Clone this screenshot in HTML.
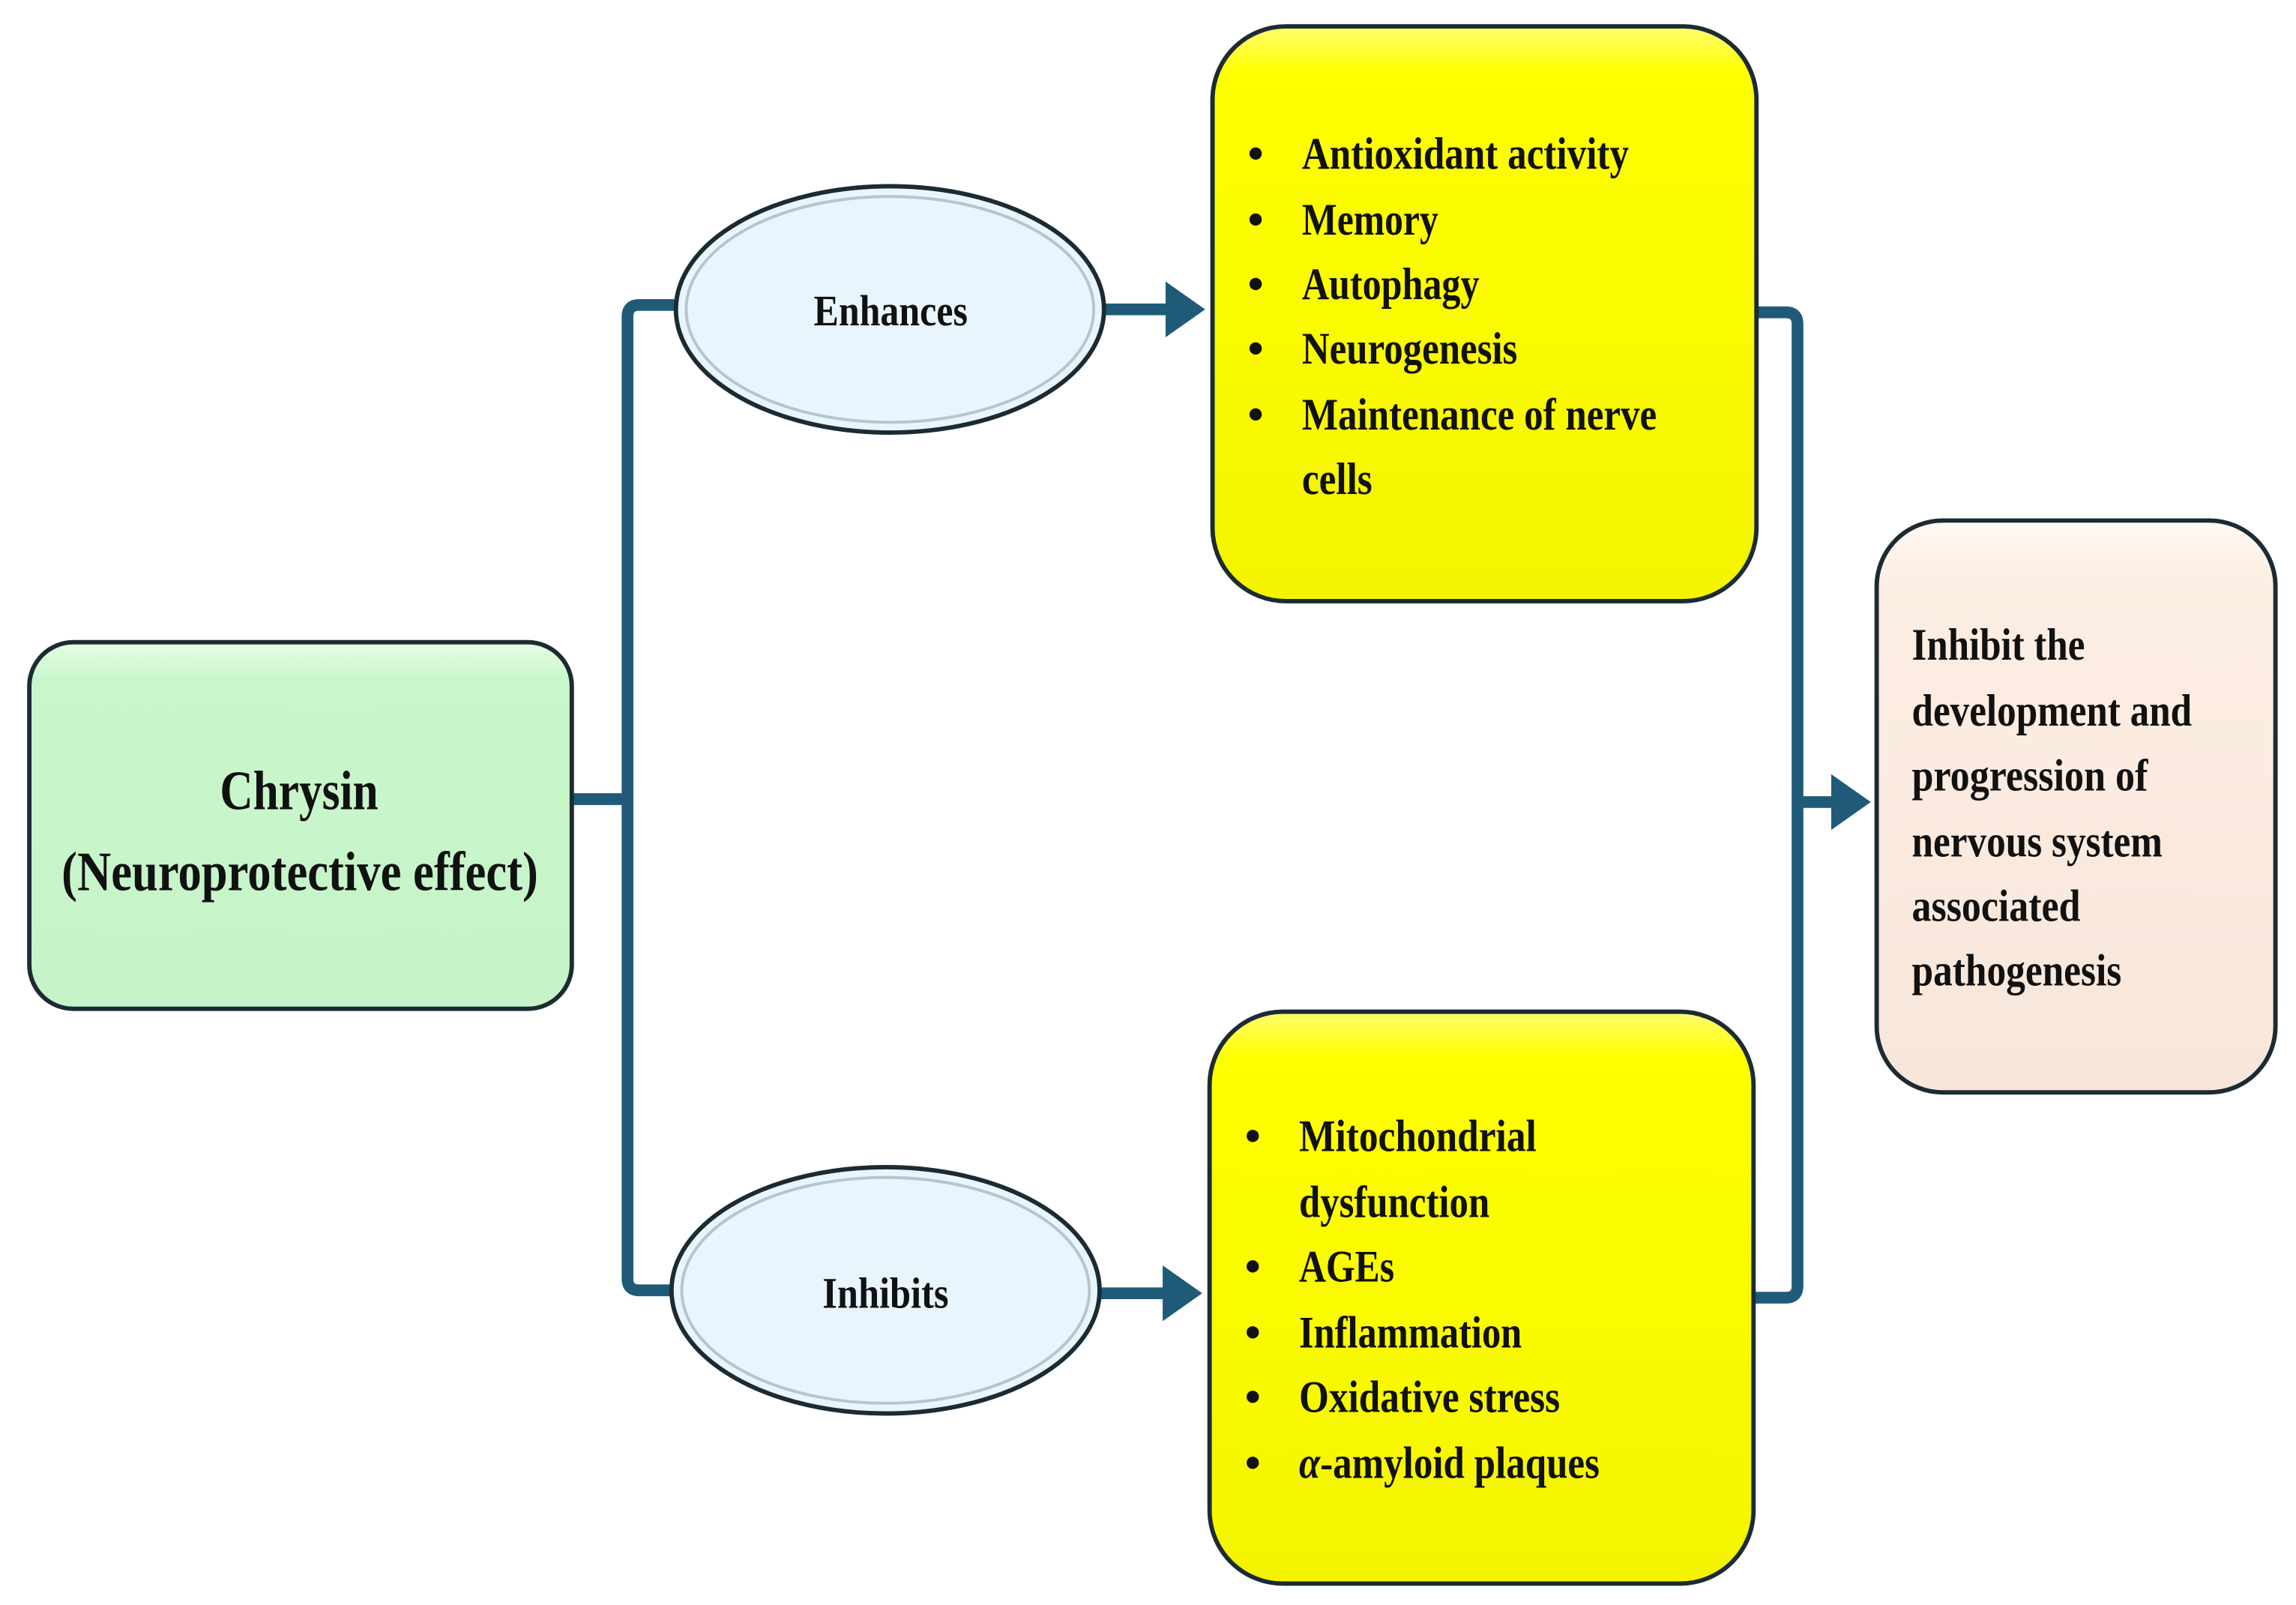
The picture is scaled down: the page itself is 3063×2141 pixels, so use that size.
<!DOCTYPE html>
<html><head><meta charset="utf-8"><style>html,body{margin:0;padding:0;background:#fff}svg{display:block}</style></head>
<body>
<svg width="3063" height="2141" viewBox="0 0 1566 1094.6" xmlns="http://www.w3.org/2000/svg" font-family="Liberation Serif, serif" font-weight="bold" fill="#111">
<defs>
<linearGradient id="g" x1="0" y1="0" x2="0" y2="1"><stop offset="0" stop-color="#e6fde6"/><stop offset="0.1" stop-color="#c9f7cc"/><stop offset="1" stop-color="#c6f4c8"/></linearGradient>
<linearGradient id="y" x1="0" y1="0" x2="0" y2="1"><stop offset="0" stop-color="#ffff70"/><stop offset="0.08" stop-color="#ffff00"/><stop offset="1" stop-color="#f4f400"/></linearGradient>
<linearGradient id="p" x1="0" y1="0" x2="0" y2="1"><stop offset="0" stop-color="#fffaf4"/><stop offset="0.1" stop-color="#fdeee3"/><stop offset="1" stop-color="#f7e6da"/></linearGradient>
</defs>
<g fill="none" stroke="#1f5b78" stroke-width="8">
<path d="M390 545 H428 M460 208 H436 Q428 208 428 216 V872 Q428 880 436 880 H460"/>
<path d="M753 211 H798 M750 882 H796"/>
<path d="M1198 213 H1218 Q1226 213 1226 221 V877 Q1226 885 1218 885 H1196 M1226 547 H1252"/>
</g>
<g fill="#1f5b78">
<path d="M795 192 L822 211 L795 230 Z"/>
<path d="M793 863 L820 882 L793 901 Z"/>
<path d="M1249 528 L1276 547 L1249 566 Z"/>
</g>
<g stroke="#1c2b33" stroke-width="3">
<rect x="20" y="438" width="370" height="250" rx="30" fill="url(#g)"/>
<rect x="827" y="18" width="371" height="392" rx="50" fill="url(#y)"/>
<rect x="825" y="690" width="371" height="390" rx="50" fill="url(#y)"/>
<rect x="1280" y="355" width="272" height="390" rx="45" fill="url(#p)"/>
<ellipse cx="607" cy="211" rx="146" ry="84" fill="#e8f5fd"/>
<ellipse cx="604" cy="880" rx="146" ry="84" fill="#e8f5fd"/>
</g>
<g fill="none" stroke="#b8c4cc" stroke-width="2">
<ellipse cx="607" cy="211" rx="139" ry="77"/>
<ellipse cx="604" cy="880" rx="139" ry="77"/>
</g>
<g font-size="38" text-anchor="start">
<text x="150" y="552" textLength="108" lengthAdjust="spacingAndGlyphs">Chrysin</text>
<text x="42" y="607" textLength="325" lengthAdjust="spacingAndGlyphs">(Neuroprotective effect)</text>
</g>
<g font-size="30">
<text x="555" y="222" textLength="105" lengthAdjust="spacingAndGlyphs">Enhances</text>
<text x="561" y="892" textLength="86" lengthAdjust="spacingAndGlyphs">Inhibits</text>
</g>
<g font-size="31">
<text x="851" y="115">•</text><text x="888" y="115" textLength="223" lengthAdjust="spacingAndGlyphs">Antioxidant activity</text>
<text x="851" y="160">•</text><text x="888" y="160" textLength="93" lengthAdjust="spacingAndGlyphs">Memory</text>
<text x="851" y="204">•</text><text x="888" y="204" textLength="121" lengthAdjust="spacingAndGlyphs">Autophagy</text>
<text x="851" y="248">•</text><text x="888" y="248" textLength="147" lengthAdjust="spacingAndGlyphs">Neurogenesis</text>
<text x="851" y="293">•</text><text x="888" y="293" textLength="242" lengthAdjust="spacingAndGlyphs">Maintenance of nerve</text>
<text x="888" y="337" textLength="48" lengthAdjust="spacingAndGlyphs">cells</text>

<text x="849" y="785">•</text><text x="886" y="785" textLength="162" lengthAdjust="spacingAndGlyphs">Mitochondrial</text>
<text x="886" y="830" textLength="130" lengthAdjust="spacingAndGlyphs">dysfunction</text>
<text x="849" y="874">•</text><text x="886" y="874" textLength="65" lengthAdjust="spacingAndGlyphs">AGEs</text>
<text x="849" y="919">•</text><text x="886" y="919" textLength="152" lengthAdjust="spacingAndGlyphs">Inflammation</text>
<text x="849" y="963">•</text><text x="886" y="963" textLength="178" lengthAdjust="spacingAndGlyphs">Oxidative stress</text>
<text x="849" y="1008">•</text><text x="886" y="1008" textLength="205" lengthAdjust="spacingAndGlyphs"><tspan font-style="italic">α</tspan>-amyloid plaques</text>

<text x="1304" y="450" textLength="118" lengthAdjust="spacingAndGlyphs">Inhibit the</text>
<text x="1304" y="495" textLength="191" lengthAdjust="spacingAndGlyphs">development and</text>
<text x="1304" y="539" textLength="161" lengthAdjust="spacingAndGlyphs">progression of</text>
<text x="1304" y="584" textLength="171" lengthAdjust="spacingAndGlyphs">nervous system</text>
<text x="1304" y="628" textLength="115" lengthAdjust="spacingAndGlyphs">associated</text>
<text x="1304" y="672" textLength="143" lengthAdjust="spacingAndGlyphs">pathogenesis</text>
</g>
</svg>
</body></html>
